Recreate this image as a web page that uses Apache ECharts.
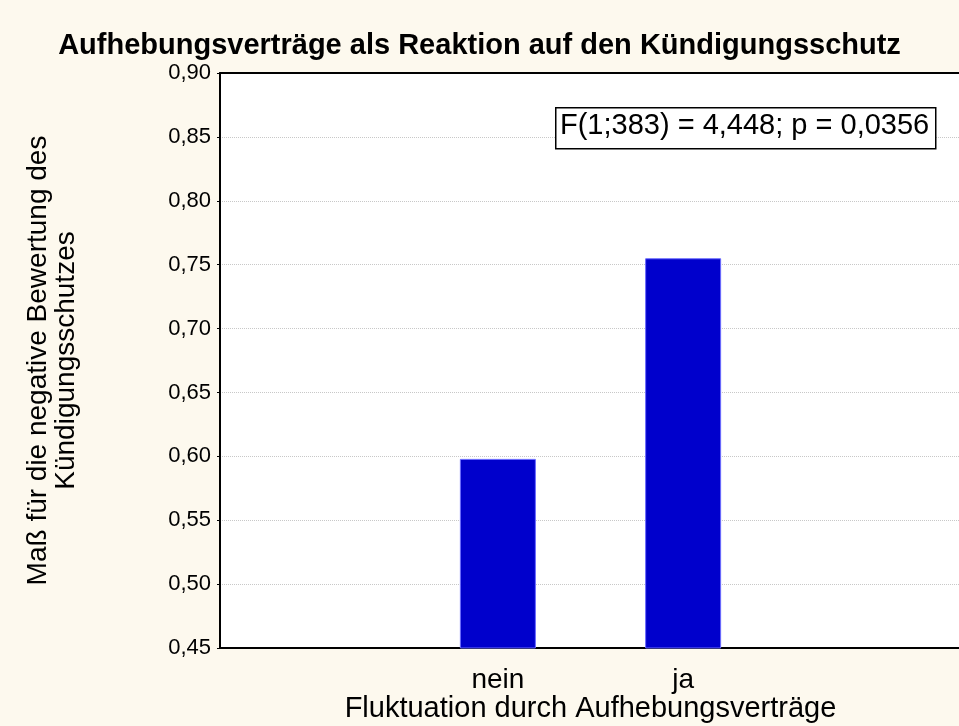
<!DOCTYPE html>
<html>
<head>
<meta charset="utf-8">
<title>Aufhebungsverträge</title>
<script src="https://cdn.jsdelivr.net/npm/echarts@6/dist/echarts.min.js"></script>
<style>
  html, body { margin: 0; padding: 0; background: #fdf9ee; }
  #chart { width: 959px; height: 726px; }
</style>
</head>
<body>
<div id="chart"></div>
<script>
// Daten
var categories = ['', 'nein', 'ja', ''];
var means = ['-', 0.598, 0.755, '-'];
var yMin = 0.45, yMax = 0.90, yStep = 0.05;
var statText = 'F(1;383) = 4,448; p = 0,0356';

var font = "'Liberation Sans', Arial, sans-serif";

var myChart = echarts.init(document.getElementById('chart'));
var option = {
    backgroundColor: '#fdf9ee',
    animation: false,
    title: {
        text: 'Aufhebungsverträge als Reaktion auf den Kündigungsschutz',
        left: 'center',
        top: 26,
        textStyle: { fontFamily: font, fontSize: 29, fontWeight: 'bold', color: '#000' }
    },
    grid: {
        left: 220, top: 73, width: 741, height: 575,
        outerBoundsMode: 'none',
        show: true, backgroundColor: '#ffffff', borderWidth: 0
    },
    xAxis: [
        {
            type: 'category',
            data: categories,
            position: 'bottom',
            name: 'Fluktuation durch Aufhebungsverträge',
            nameLocation: 'middle',
            nameGap: 46,
            nameMoveOverlap: false,
            nameTextStyle: { fontFamily: font, fontSize: 29, color: '#000' },
            axisLine: { lineStyle: { color: '#000', width: 2 } },
            axisTick: { inside: true, alignWithLabel: true, length: 6, lineStyle: { color: '#000', width: 2 } },
            axisLabel: { fontFamily: font, fontSize: 28, color: '#000', margin: 18 },
            splitLine: { show: false }
        },
        {
            type: 'category',
            data: categories,
            position: 'top',
            axisLine: { lineStyle: { color: '#000', width: 2 } },
            axisTick: { inside: true, alignWithLabel: true, length: 6, lineStyle: { color: '#000', width: 2 } },
            axisLabel: { show: false },
            splitLine: { show: false }
        }
    ],
    yAxis: {
        type: 'value',
        min: yMin,
        max: yMax,
        interval: yStep,
        name: 'Maß für die negative Bewertung des\nKündigungsschutzes',
        nameLocation: 'middle',
        nameRotate: 90,
        nameGap: 140,
        nameMoveOverlap: false,
        nameTextStyle: { fontFamily: font, fontSize: 28, color: '#000', lineHeight: 28, align: 'center' },
        axisLine: { show: true, lineStyle: { color: '#000', width: 2 } },
        axisTick: { show: true, length: 3, lineStyle: { color: '#000' } },
        axisLabel: {
            fontFamily: font, fontSize: 22, color: '#000', margin: 9,
            formatter: function (v) { return v.toFixed(2).replace('.', ','); }
        },
        splitLine: { show: true, lineStyle: { color: '#c8c8c8', type: 'dotted', width: 1 } }
    },
    series: [{
        type: 'bar',
        data: means,
        barWidth: 76,
        itemStyle: { color: '#0000cc', borderColor: '#6a6aff', borderWidth: 1 }
    }],
    graphic: [
        {
            type: 'rect',
            left: 555, top: 107,
            shape: { width: 380, height: 41 },
            style: { fill: '#ffffff', stroke: '#000', lineWidth: 1.5 },
            z: 10
        },
        {
            type: 'text',
            left: 560, top: 111,
            style: { text: statText, font: '29px ' + font, fill: '#000' },
            z: 11
        }
    ]
};
myChart.setOption(option);
</script>
</body>
</html>
